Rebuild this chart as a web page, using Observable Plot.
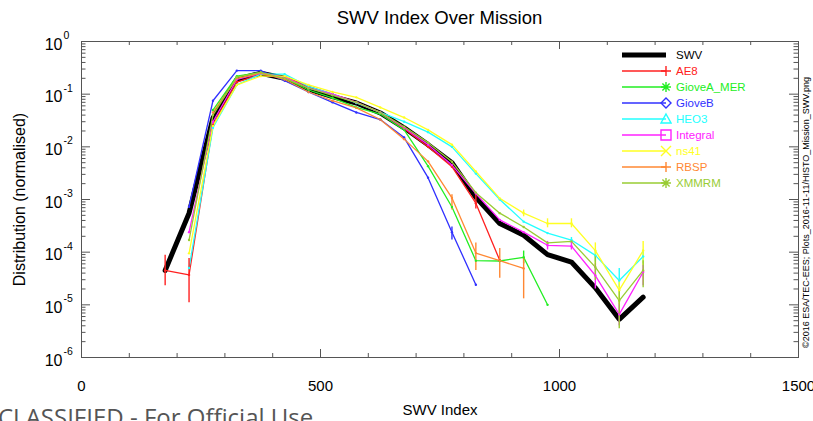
<!DOCTYPE html>
<html><head><meta charset="utf-8">
<script src="https://cdn.jsdelivr.net/npm/d3@7"></script>
<script src="https://cdn.jsdelivr.net/npm/@observablehq/plot@0.6"></script>
<style>
body{margin:0;background:#fff;font-family:"Liberation Sans",Arial,sans-serif;}
#wrap{position:relative;width:813px;height:421px;overflow:hidden;background:#fff;}
#title{height:30px;width:717px;margin-left:81px;text-align:center;font-size:18.5px;line-height:20px;padding-top:8px;box-sizing:border-box;color:#000;}
#legend{position:absolute;left:620px;top:47px;}
.row{display:flex;align-items:center;height:16px;font-size:11.5px;white-space:nowrap;}
.row svg{display:block;margin-right:4px;}
#caption{position:absolute;left:-2px;top:405px;font-family:"Open Sans",sans-serif;font-size:24px;line-height:1;color:#555;white-space:nowrap;}
</style></head><body>
<div id="wrap">
<div id="title">SWV Index Over Mission</div>
<div id="chart"></div>
<div id="legend"></div>
<div id="caption">CLASSIFIED - For Official Use</div>
</div>
<script>
// ---- data ----
const swvIndex = [175,225,275,325,375,425,475,525,575,625,675,725,775,825,875,925,975,1025,1075,1125,1175];

const SWV        = [4.5e-5,5.5e-4,0.035,0.19,0.25,0.2,0.125,0.09,0.068,0.044,0.023,0.011,0.005,1.1e-3,3.5e-4,2.1e-4,9e-5,6.5e-5,2.1e-5,5.3e-6,1.4e-5];
const AE8        = [4.5e-5,3.7e-5,0.026,0.17,0.24,0.21,0.14,0.1,0.07,0.045,0.022,0.01,0.0042,8.5e-4,7e-5,null,null,null,null,null,null];
const GioveA_MER = [null,null,0.05,0.22,0.26,0.2,0.12,0.085,0.056,0.042,0.021,0.0043,7.2e-4,6.9e-5,6.8e-5,8e-5,1e-5,null,null,null,null];
const GioveB     = [null,7.3e-4,0.075,0.28,0.28,0.18,0.11,0.07,0.045,0.033,0.015,0.0026,2.4e-4,2.4e-5,null,null,null,null,null,null,null];
const HEO3       = [null,5e-5,0.023,0.15,0.24,0.24,0.14,0.1,0.068,0.045,0.03,0.019,0.01,0.0031,1.0e-3,3.8e-4,2.3e-4,1.7e-4,8.7e-5,2.9e-5,8.3e-5];
const Integral   = [null,2.4e-4,0.03,0.19,0.25,0.21,0.13,0.1,0.07,0.045,0.023,0.011,0.0045,1.3e-3,4.1e-4,2.4e-4,1.35e-4,1.3e-4,3.6e-5,6.6e-6,4.2e-5];
const ns41       = [null,9.5e-5,0.025,0.15,0.22,0.22,0.15,0.11,0.087,0.056,0.036,0.021,0.011,0.0034,1.05e-3,5.5e-4,3.5e-4,3.5e-4,1.07e-4,1.9e-5,1.07e-4];
const RBSP       = [null,null,0.045,0.2,0.25,0.19,0.11,0.075,0.055,0.033,0.014,0.0053,1.07e-3,9.6e-5,6.9e-5,4.9e-5,null,null,null,null,null];
const XMMRM      = [null,1.7e-4,0.04,0.21,0.26,0.2,0.13,0.095,0.07,0.045,0.024,0.012,0.0052,1.35e-3,5.5e-4,3.0e-4,1.5e-4,1.6e-4,5.2e-5,1.2e-5,4.5e-5];

// error bars: [SWV index, upper, lower]
const errAE8        = [[175,8.7e-5,2.3e-5],[225,7.6e-5,1.1e-5],[825,1.2e-3,6.6e-4]];
const errGioveA_MER = [[925,1.05e-4,6e-5]];
const errGioveB     = [[775,3.0e-4,1.7e-4]];
const errHEO3       = [[1025,1.9e-4,1.5e-4],[1075,1.1e-4,6.5e-5],[1125,4.9e-5,2.1e-5],[1175,1.1e-4,6e-5]];
const errIntegral   = [[975,1.6e-4,1.1e-4],[1025,1.6e-4,1.1e-4],[1075,6e-5,2e-5],[1125,1.1e-5,4e-6],[1175,5.6e-5,2.3e-5]];
const errns41       = [[925,6.3e-4,4.7e-4],[975,4.3e-4,2.9e-4],[1025,4.3e-4,2.9e-4],[1075,1.5e-4,5.6e-5],[1125,3e-5,1e-5],[1175,1.6e-4,5.6e-5]];
const errRBSP       = [[775,1.23e-3,6.3e-4],[825,1.5e-4,4.5e-5],[875,1.18e-4,3.2e-5],[925,8e-5,1.3e-5]];
const errXMMRM      = [[1075,8.7e-5,2.9e-5],[1125,1.9e-5,3.5e-6],[1175,6.9e-5,2.1e-5]];

const seriesNames  = ["SWV","AE8","GioveA_MER","GioveB","HEO3","Integral","ns41","RBSP","XMMRM"];
const seriesColors = ["#000000","#ff2020","#22ee22","#3030ff","#22ffff","#ff22ff","#ffff22","#ff8833","#99cc33"];
const seriesSymbols = ["none","plus","asterisk","diamond","triangle","square","x","plus","asterisk"];

const yTickValues = [1,1e-1,1e-2,1e-3,1e-4,1e-5,1e-6];
const yTickExponents = ["0","-1","-2","-3","-4","-5","-6"];
const xTickLabels = [0,500,1000,1500];
const xLabel = "SWV Index";
const yLabel = "Distribution (normalised)";
const credit = "©2016 ESA/TEC-EES; Plots_2016-11-11/HISTO_Mission_SWV.png";

// ---- build tables ----
const seriesValues = {SWV, AE8, GioveA_MER, GioveB, HEO3, Integral, ns41, RBSP, XMMRM};
const seriesErr = {AE8: errAE8, GioveA_MER: errGioveA_MER, GioveB: errGioveB, HEO3: errHEO3, Integral: errIntegral, ns41: errns41, RBSP: errRBSP, XMMRM: errXMMRM};
const color = Object.fromEntries(seriesNames.map((n,i)=>[n, seriesColors[i]]));
const rows = [];
for (const n of seriesNames) seriesValues[n].forEach((v,i)=>{ if (v != null) rows.push({series:n, x:swvIndex[i], v}); });
const errRows = [];
for (const n in seriesErr) for (const [x,hi,lo] of seriesErr[n]) errRows.push({series:n, x, hi, lo});
const swvRows = rows.filter(d=>d.series==="SWV");
const otherRows = rows.filter(d=>d.series!=="SWV");

// tick positions
const yMinor = [];
for (let k=-6;k<0;k++) for (let m=2;m<=9;m++) yMinor.push(m*Math.pow(10,k));
const xMinor = d3.range(0,1501,100);

const ML=81, MR=15, MT=11, MB=64, WIDTH=813, HEIGHT=391;
const FW = WIDTH-ML-MR, FH = HEIGHT-MT-MB;
const axisColor = "#555";

const chart = Plot.plot({
  width: WIDTH, height: HEIGHT,
  marginLeft: ML, marginRight: MR, marginTop: MT, marginBottom: MB,
  x: {domain:[0,1500], axis:null},
  y: {type:"log", domain:[1e-6,1], axis:null},
  style: {fontFamily:'"Liberation Sans", Arial, sans-serif', background:"white", color:"#000", overflow:"visible"},
  marks: [
    Plot.line(swvRows, {x:"x", y:"v", stroke:"#000", strokeWidth:5, strokeLinejoin:"round"}),
    Plot.line(otherRows, {x:"x", y:"v", z:"series", stroke:d=>color[d.series], strokeWidth:1.3}),
    Plot.ruleX(errRows, {x:"x", y1:"lo", y2:"hi", stroke:d=>color[d.series], strokeWidth:1.4}),
    Plot.dot(otherRows, {x:"x", y:"v", r:1.2, fill:d=>color[d.series], stroke:null}),
    // inward ticks
    Plot.tickY(yTickValues, {y:d=>d, stroke:axisColor, insetRight:FW-9}),
    Plot.tickY(yTickValues, {y:d=>d, stroke:axisColor, insetLeft:FW-9}),
    Plot.tickY(yMinor, {y:d=>d, stroke:axisColor, insetRight:FW-4.5}),
    Plot.tickY(yMinor, {y:d=>d, stroke:axisColor, insetLeft:FW-4.5}),
    Plot.tickX(xMinor, {x:d=>d, stroke:axisColor, insetTop:FH-4}),
    Plot.tickX(xMinor, {x:d=>d, stroke:axisColor, insetBottom:FH-4}),
    Plot.tickX(xTickLabels, {x:d=>d, stroke:axisColor, insetTop:FH-8}),
    Plot.tickX(xTickLabels, {x:d=>d, stroke:axisColor, insetBottom:FH-8}),
    Plot.frame({stroke:axisColor}),
    // labels
    Plot.text(xTickLabels, {x:d=>d, text:d=>String(d), frameAnchor:"bottom", dy:23, lineAnchor:"top", fontSize:15, fill:"#000"}),
    Plot.text(yTickValues, {y:d=>d, text:()=>"10", frameAnchor:"left", dx:-19, dy:3, textAnchor:"end", fontSize:16, fill:"#000"}),
    Plot.text(yTickValues, {y:d=>d, text:(d,i)=>yTickExponents[i], frameAnchor:"left", dx:-18, dy:-6, textAnchor:"start", fontSize:10.5, fill:"#000"}),
    Plot.text([xLabel], {text:d=>d, frameAnchor:"bottom", dy:47, lineAnchor:"top", fontSize:15, fill:"#000"}),
    Plot.text([yLabel], {text:d=>d, frameAnchor:"left", dx:-62, rotate:-90, textAnchor:"middle", fontSize:16, fill:"#000"}),
    Plot.text([credit], {text:d=>d, frameAnchor:"right", dx:8, dy:13, rotate:-90, textAnchor:"middle", lineAnchor:"middle", fontSize:9, fill:"#000"})
  ]
});
document.getElementById("chart").appendChild(chart);

// ---- legend ----
function symbolPath(sym, cx, cy, s) {
  switch (sym) {
    case "plus": return `M${cx},${cy-s}V${cy+s}M${cx-s},${cy}H${cx+s}`;
    case "x": return `M${cx-s},${cy-s}L${cx+s},${cy+s}M${cx-s},${cy+s}L${cx+s},${cy-s}`;
    case "asterisk": { const d=s*0.72; return `M${cx},${cy-s}V${cy+s}M${cx-s},${cy}H${cx+s}M${cx-d},${cy-d}L${cx+d},${cy+d}M${cx-d},${cy+d}L${cx+d},${cy-d}`; }
    case "diamond": return `M${cx},${cy-s}L${cx+s},${cy}L${cx},${cy+s}L${cx-s},${cy}Z`;
    case "triangle": return `M${cx},${cy-s}L${cx+s},${cy+s*0.8}L${cx-s},${cy+s*0.8}Z`;
    case "square": return `M${cx-s},${cy-s}H${cx+s}V${cy+s}H${cx-s}Z`;
    default: return "";
  }
}
const legend = document.getElementById("legend");
seriesNames.forEach((n,i)=>{
  const c = seriesColors[i];
  const sw = n==="SWV" ? 5 : 1.3;
  const row = document.createElement("div");
  row.className = "row";
  row.innerHTML = `<svg width="52" height="16"><line x1="2" x2="46" y1="8" y2="8" stroke="${c}" stroke-width="${sw}"/>`+
    `<path d="${symbolPath(seriesSymbols[i],46,8,5)}" fill="none" stroke="${c}" stroke-width="1.4"/></svg>`+
    `<span style="color:${c}">${n}</span>`;
  legend.appendChild(row);
});
</script>
</body></html>
